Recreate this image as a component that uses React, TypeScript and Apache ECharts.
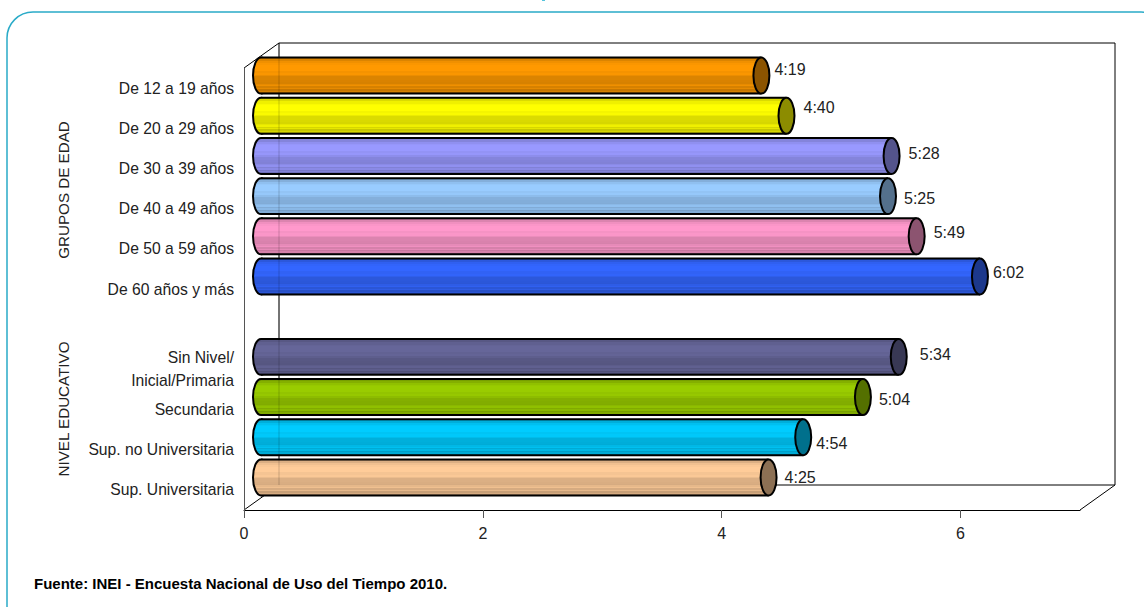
import React, { useEffect, useRef } from "react";
import * as echarts from "echarts";

const categories = [
  "De 12 a 19 años", "De 20 a 29 años", "De 30 a 39 años", "De 40 a 49 años", "De 50 a 59 años", "De 60 años y más",
  "",
  "Sin Nivel/\nInicial/Primaria", "Secundaria", "Sup. no Universitaria", "Sup. Universitaria",
];
const values = [4.19, 4.40, 5.28, 5.25, 5.49, 6.02, null, 5.34, 5.04, 4.54, 4.25];
const timeLabels = ["4:19", "4:40", "5:28", "5:25", "5:49", "6:02", "", "5:34", "5:04", "4:54", "4:25"];
const barColors = ["#FF9900", "#FFFF00", "#9999FF", "#99CCFF", "#FF99CC", "#3366FF", "#000000", "#666699", "#99CC00", "#00CCFF", "#FFCC99"];
const xTicks = [0, 2, 4, 6];
const labelShiftX = [5, 9, 9, 8, 9, 5, 0, 13, 8, 5, 8];
const labelShiftY = [-6, -8, -2, 2, -4, -4, 0, -2, 2, 6, 0];
const groupTitles = ["GRUPOS DE EDAD", "NIVEL EDUCATIVO"];
const sourceNote = "Fuente: INEI - Encuesta Nacional de Uso del Tiempo 2010.";

const FONT = "'Liberation Sans', Arial, sans-serif";
const DX = 17, DY = -12.5, CAP_RX = 8;

function shade(hex: string, f: number) {
  const n = parseInt(hex.slice(1), 16);
  const c = [(n >> 16) & 255, (n >> 8) & 255, n & 255].map((v) => Math.round(v * f));
  return `rgb(${c[0]},${c[1]},${c[2]})`;
}

function bodyFill(hex: string) {
  const profile: [number, number][] = [
    [0, 0.78], [0.04, 0.86], [0.1, 0.94], [0.16, 0.98], [0.2, 1], [0.32, 1], [0.36, 0.96], [0.42, 0.98],
    [0.48, 0.92], [0.52, 0.86], [0.62, 0.85], [0.68, 0.84], [0.72, 0.9], [0.76, 0.94], [0.8, 0.84],
    [0.84, 0.9], [0.88, 0.78], [0.92, 0.84], [0.96, 0.72], [1, 0.66],
  ];
  const stops: { offset: number; color: string }[] = [];
  profile.forEach(([o, f], i) => {
    const next = i < profile.length - 1 ? profile[i + 1][0] : 1;
    stops.push({ offset: o, color: shade(hex, f) }, { offset: next, color: shade(hex, f) });
  });
  return new echarts.graphic.LinearGradient(0, 0, 0, 1, stops);
}

function renderCylinder(_: any, api: any) {
  const idx = api.value(1);
  const v = api.value(0);
  const start = api.coord([0, idx]);
  const end = api.coord([v, idx]);
  const band = api.size([0, 1])[1];
  const h = band * 0.895;
  const cy = start[1] + DY;
  const x0 = start[0] + DX;
  const x1 = end[0] + DX;
  const top = cy - h / 2;
  const base = barColors[idx];
  const line = { stroke: "#000", lineWidth: 2 };
  return {
    type: "group",
    children: [
      { type: "ellipse", shape: { cx: x0, cy, rx: CAP_RX, ry: h / 2 }, style: { fill: bodyFill(base), ...line } },
      { type: "rect", shape: { x: x0, y: top, width: x1 - x0, height: h }, style: { fill: bodyFill(base) } },
      { type: "line", shape: { x1: x0, y1: top, x2: x1, y2: top }, style: { ...line } },
      { type: "line", shape: { x1: x0, y1: top + h, x2: x1, y2: top + h }, style: { ...line } },
      { type: "ellipse", shape: { cx: x1, cy, rx: CAP_RX, ry: h / 2 }, style: { fill: shade(base, 0.55), ...line } },
      {
        type: "text",
        style: {
          x: x1 + CAP_RX + labelShiftX[idx],
          y: cy + labelShiftY[idx],
          text: timeLabels[idx],
          fill: "#222",
          font: `16px ${FONT}`,
          textAlign: "left",
          textVerticalAlign: "middle",
        },
      },
    ],
  };
}

export default function App() {
  const ref = useRef<HTMLDivElement>(null);
  useEffect(() => {
    document.body.style.margin = "0";
    const chart = echarts.init(ref.current!, null, { renderer: "svg" });
    const wall = { stroke: "#000", lineWidth: 1 };
    chart.setOption({
      animation: false,
      backgroundColor: "#fff",
      textStyle: { fontFamily: FONT },
      grid: { left: 244, right: 64, top: 68, bottom: 97, containLabel: false },
      xAxis: {
        type: "value",
        min: 0,
        max: 7,
        interval: 1,
        splitLine: { show: false },
        axisLine: { show: true, onZero: false, lineStyle: { color: "#000", width: 1 } },
        axisTick: { show: true, length: 8, customValues: xTicks, lineStyle: { color: "#555" } },
        axisLabel: { show: true, customValues: xTicks, color: "#222", fontSize: 16, margin: 15, fontFamily: FONT },
      },
      yAxis: {
        type: "category",
        inverse: true,
        data: categories,
        axisLine: { show: true, onZero: false, lineStyle: { color: "#555", width: 1 } },
        axisTick: { show: false },
        axisLabel: { color: "#222", fontSize: 15.7, lineHeight: 23, margin: 10, align: "right", fontFamily: FONT, interval: 0 },
      },
      series: [
        {
          type: "custom",
          coordinateSystem: "cartesian2d",
          clip: false,
          encode: { x: 0, y: 1 },
          data: values.map((v, i) => [v, i]).filter((d) => d[0] !== null),
          renderItem: renderCylinder,
          z: 5,
        },
      ],
      graphic: [
        { type: "rect", silent: true, z: 20, shape: { x: 7, y: 12, width: 1160, height: 620, r: 26 }, style: { fill: "none", stroke: "#2AABC8", lineWidth: 1.5 } },
        { type: "rect", silent: true, z: 20, shape: { x: 542, y: 0, width: 3, height: 1 }, style: { fill: "#55C4DC" } },
        { type: "polyline", silent: true, z: 0, shape: { points: [[244, 68], [279, 43], [1115, 43], [1115, 485], [1080, 510]] }, style: { fill: "none", ...wall } },
        { type: "line", silent: true, z: 0, shape: { x1: 279, y1: 43, x2: 279, y2: 485 }, style: wall },
        { type: "polyline", silent: true, z: 0, shape: { points: [[279, 485], [1115, 485]] }, style: { fill: "none", ...wall } },
        { type: "line", silent: true, z: 0, shape: { x1: 244, y1: 510, x2: 279, y2: 485 }, style: wall },
        { type: "line", silent: true, z: 20, shape: { x1: 279, y1: 43, x2: 279, y2: 485 }, style: { stroke: "#000", lineWidth: 1, opacity: 0.18 } },
        { type: "text", silent: true, z: 20, x: 63, y: 190, rotation: Math.PI / 2, style: { text: groupTitles[0], fill: "#222", font: `15.2px ${FONT}`, textAlign: "center", textVerticalAlign: "middle" } },
        { type: "text", silent: true, z: 20, x: 63, y: 409, rotation: Math.PI / 2, style: { text: groupTitles[1], fill: "#222", font: `15.2px ${FONT}`, textAlign: "center", textVerticalAlign: "middle" } },
        { type: "text", silent: true, z: 20, x: 34, y: 583, style: { text: sourceNote, fill: "#000", font: `bold 15px ${FONT}`, textAlign: "left", textVerticalAlign: "middle" } },
      ],
    });
    return () => chart.dispose();
  }, []);
  return <div ref={ref} style={{ position: "absolute", left: 0, top: 0, width: 1144, height: 607 }} />;
}
